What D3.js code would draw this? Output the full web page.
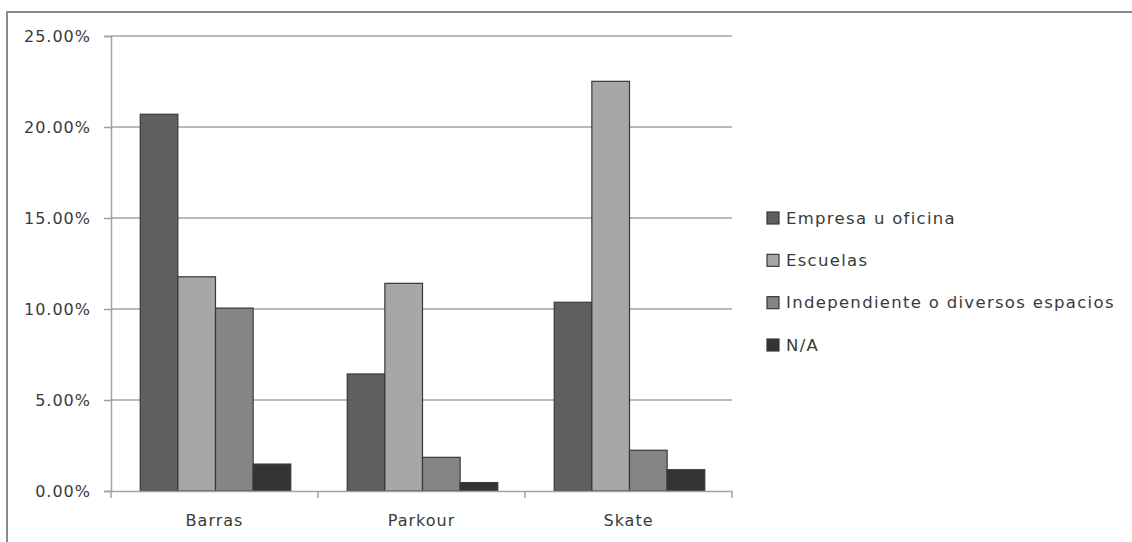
<!DOCTYPE html>
<html>
<head>
<meta charset="utf-8">
<script src="https://cdn.jsdelivr.net/npm/d3@7"></script>
<style>
  html, body { margin: 0; padding: 0; background: #fff; }
  svg { display: block; }
  text { font-family: "DejaVu Sans", sans-serif; fill: #3a3a3a; }
</style>
</head>
<body>
<svg id="chart" width="1132" height="542"></svg>
<script>
// Categories and series (shares per activity, in percent)
const categories = ["Barras", "Parkour", "Skate"];
const seriesNames = ["Empresa u oficina", "Escuelas", "Independiente o diversos espacios", "N/A"];
const empresa = [20.70, 6.43, 10.37];
const escuelas = [11.77, 11.41, 22.51];
const independiente = [10.05, 1.85, 2.24];
const na = [1.48, 0.46, 1.17];
const yTicks = [0, 5, 10, 15, 20, 25];

const seriesValues = [empresa, escuelas, independiente, na];
const colors = ["#5f5f5f", "#a7a7a7", "#858585", "#333333"];

const svg = d3.select("#chart");

// Outer chart frame (top and left edges visible)
svg.append("path")
  .attr("d", "M7,542 V12 H1132")
  .attr("fill", "none")
  .attr("stroke", "#8a8a8a")
  .attr("stroke-width", 2);

const plot = { left: 111, right: 732, top: 36, bottom: 491 };

const y = d3.scaleLinear().domain([0, 25]).range([plot.bottom, plot.top]);
const x0 = d3.scaleBand().domain(categories).range([plot.left, plot.right]).paddingInner(0).paddingOuter(0);
const groupPad = 0.75 / 5.5;
const x1 = d3.scaleBand().domain(d3.range(seriesNames.length))
  .range([x0.bandwidth() * groupPad, x0.bandwidth() * (1 - groupPad)]);

// Horizontal gridlines
svg.append("g")
  .selectAll("line")
  .data(yTicks.filter(t => t > 0))
  .join("line")
  .attr("x1", plot.left).attr("x2", plot.right)
  .attr("y1", d => y(d)).attr("y2", d => y(d))
  .attr("stroke", "#a3a3a3").attr("stroke-width", 1.5);

// Y axis
const yAxis = d3.axisLeft(y).tickValues(yTicks).tickSize(7).tickPadding(13)
  .tickFormat(d => d.toFixed(2) + "%");
const gy = svg.append("g").attr("transform", `translate(${plot.left},0)`).call(yAxis);
gy.select(".domain").attr("stroke", "#a3a3a3").attr("stroke-width", 1.5);
gy.selectAll(".tick line").attr("stroke", "#a3a3a3").attr("stroke-width", 1.5);
gy.selectAll(".tick text")
  .style("font-size", "16px").style("letter-spacing", "1px")
  .style("font-family", "DejaVu Sans, sans-serif").attr("fill", "#3a3a3a");

// Bars
const groups = svg.append("g").selectAll("g")
  .data(categories)
  .join("g")
  .attr("transform", d => `translate(${x0(d)},0)`);

groups.selectAll("rect")
  .data((c, ci) => seriesValues.map((vals, si) => ({ si, v: vals[ci] })))
  .join("rect")
  .attr("x", d => x1(d.si) + 1)
  .attr("width", x1.bandwidth())
  .attr("y", d => y(d.v))
  .attr("height", d => y(0) - y(d.v))
  .attr("fill", d => colors[d.si])
  .attr("stroke", "#383838")
  .attr("stroke-width", 1.2);

// X axis
const xAxis = d3.axisBottom(x0).tickSize(0).tickPadding(24);
const gx = svg.append("g").attr("transform", `translate(0,${plot.bottom})`).call(xAxis);
gx.select(".domain").attr("stroke", "#a3a3a3").attr("stroke-width", 1.5);
gx.selectAll(".tick text")
  .style("font-size", "16px").style("letter-spacing", "1px")
  .style("font-family", "DejaVu Sans, sans-serif").attr("fill", "#3a3a3a");
// Category boundary tick marks
gx.append("g").selectAll("line")
  .data([plot.left, ...categories.map(c => x0(c) + x0.bandwidth())])
  .join("line")
  .attr("x1", d => d).attr("x2", d => d)
  .attr("y1", 0).attr("y2", 7)
  .attr("stroke", "#a3a3a3").attr("stroke-width", 1.5);

// Legend
const legend = svg.append("g").attr("transform", "translate(767,0)");
const legendY = d3.scalePoint().domain(seriesNames).range([218, 345]);
const items = legend.selectAll("g").data(seriesNames).join("g")
  .attr("transform", d => `translate(0,${legendY(d)})`);
items.append("rect")
  .attr("x", 0).attr("y", -6).attr("width", 12).attr("height", 12)
  .attr("fill", (d, i) => colors[i])
  .attr("stroke", "#383838").attr("stroke-width", 1.2);
items.append("text")
  .attr("x", 19).attr("y", 0).attr("dy", "0.35em")
  .style("font-size", "16.5px").style("letter-spacing", "1.3px")
  .text(d => d);
</script>
</body>
</html>
